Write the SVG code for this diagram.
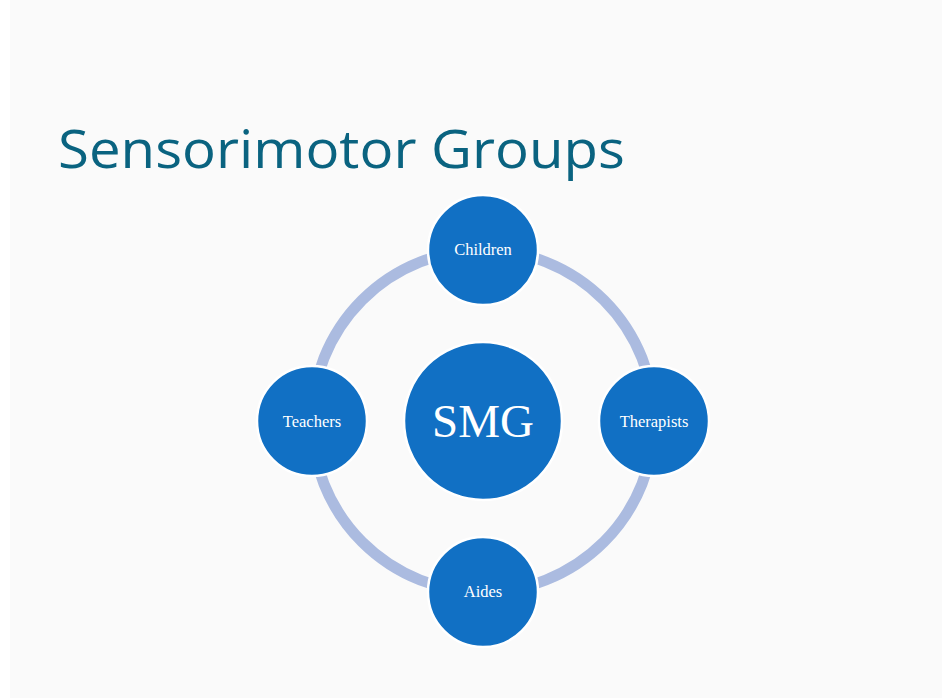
<svg xmlns="http://www.w3.org/2000/svg" width="942" height="698" viewBox="0 0 942 698">
<style>
.node{fill:#1170c4;stroke:#ffffff;stroke-width:2.5}
.lbl{font-family:"Liberation Serif","DejaVu Serif",serif;fill:#ffffff;text-anchor:middle}
.ring{fill:none;stroke:#abbbe0;stroke-width:11}
</style>
<rect x="0" y="0" width="942" height="698" fill="#ffffff"/>
<rect x="10" y="0" width="932" height="698" fill="#fafafa"/>
<text x="58" y="168" font-family="Open Sans, Noto Sans, sans-serif" font-size="53" fill="#0a6380" textLength="567" lengthAdjust="spacingAndGlyphs">Sensorimotor Groups</text>
<g id="connectors">
<circle class="ring" cx="483" cy="421" r="171"/>
</g>
<g id="smg"><circle class="node" cx="483" cy="421" r="79"/><text class="lbl" x="483" y="437" font-size="47">SMG</text></g>
<g id="children"><circle class="node" cx="483" cy="250" r="55"/><text class="lbl" x="483" y="255" font-size="16.5">Children</text></g>
<g id="teachers"><circle class="node" cx="312" cy="421" r="55"/><text class="lbl" x="312" y="427" font-size="16.5">Teachers</text></g>
<g id="therapists"><circle class="node" cx="654" cy="421" r="55"/><text class="lbl" x="654" y="427" font-size="16.5">Therapists</text></g>
<g id="aides"><circle class="node" cx="483" cy="592" r="55"/><text class="lbl" x="483" y="597" font-size="16.5">Aides</text></g>
</svg>
